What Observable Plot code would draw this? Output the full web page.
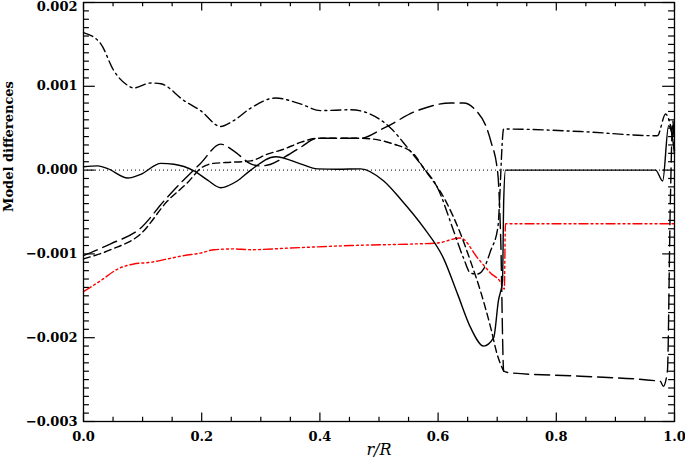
<!DOCTYPE html>
<html><head><meta charset="utf-8">
<script src="https://cdn.jsdelivr.net/npm/d3@7"></script>
<script src="https://cdn.jsdelivr.net/npm/@observablehq/plot@0.6"></script>
<style>body{margin:0;background:#fff;} svg{display:block}</style>
</head><body><div id="chart"></div>
<script>
// values (y in units of 1e-3)
const solidX = [0, .024, .04, .075, .097, .131, .153, .187, .21, .232, .26, .283, .325, .367, .396, .43, .469, .508, .537, .576, .609, .633, .655, .677, .694, .702, .709, .711, .714, .84, .968, .98, .99, .995, 1.0];
const solidY = [.04, .05, .02, -.095, -.05, .08, .07, -.01, -.12, -.21, -.13, 0.0, .16, .075, .015, .01, .015, -.13, -.35, -.69, -1.05, -1.48, -1.88, -2.10, -2.0, -1.56, -1.32, -.37, 0, 0, 0, -.13, .53, .45, .2];

const dashDotX = [0, .029, .051, .075, .085, .114, .131, .170, .198, .232, .254, .283, .325, .367, .401, .452, .481, .520, .548, .575, .599, .626, .643, .655, .667, .677, .689, .701, .711, .714, .841, .971, .985, .991, .997];
const dashDotY = [1.64, 1.51, 1.19, 1.01, .98, 1.04, 1.03, .83, .71, .52, .59, .74, .86, .79, .71, .72, .68, .50, .27, .03, -.21, -.72, -1.05, -1.23, -1.24, -1.18, -.96, -.69, .49, .49, .46, .41, .67, .59, .41];

const longDashX = [0, .046, .097, .136, .165, .198, .232, .254, .283, .300, .317, .339, .367, .396, .469, .508, .565, .621, .643, .660, .689, .701, .706, .711, .723, .841, .976, .981, .988, .993, .997, 1.0];
const longDashY = [-1.02, -.88, -.69, -.37, -.15, .08, .31, .23, .075, .05, .07, .15, .27, .38, .38, .50, .71, .80, .80, .74, .35, -.04, -.84, -2.40, -2.42, -2.46, -2.52, -2.58, -2.40, -.37, .59, .23];

const shortDashX = [0, .046, .097, .142, .176, .2, .22, .24, .283, .311, .339, .367, .396, .469, .525, .559, .575, .613, .638, .655, .672, .689, .70, .711];
const shortDashY = [-1.06, -.95, -.76, -.37, -.15, .03, .08, .09, .11, .19, .25, .33, .38, .38, .31, .19, .03, -.37, -.76, -1.09, -1.45, -1.88, -2.2, -2.40];

const redX = [0, .029, .058, .085, .114, .142, .170, .198, .221, .254, .283, .35, .452, .565, .599, .638, .667, .689, .706, .712, .714, 1.0];
const redY = [-1.45, -1.32, -1.18, -1.12, -1.10, -1.06, -1.02, -.99, -.95, -.94, -.95, -.93, -.90, -.88, -.87, -.81, -1.05, -1.23, -1.34, -1.42, -.64, -.64];

const xMajor = [0, 0.2, 0.4, 0.6, 0.8, 1.0];
const yMajor = [-0.003, -0.002, -0.001, 0, 0.001];
const yTop = [0.002];
const xMinor = [0.05, 0.1, 0.15, 0.25, 0.3, 0.35, 0.45, 0.5, 0.55, 0.65, 0.7, 0.75, 0.85, 0.9, 0.95];
const yMinor = d3.range(-30, 21).filter(i => i % 10 !== 0).map(i => i * 1e-4);

const yLabel = "Model differences";
const xLabel = "r/R";

const table = (xs, ys) => xs.map((x, i) => ({x, y: ys[i] * 1e-3}));
const allYMajor = yMajor.concat(yTop);

const lw = 1.4;
const chart = Plot.plot({
  width: 685, height: 464,
  marginLeft: 83, marginRight: 11, marginTop: 2, marginBottom: 43,
  x: {domain: [0, 1]},
  y: {domain: [-0.003, 0.002]},
  style: {fontFamily: "DejaVu Serif", fontSize: "13px", fontWeight: "bold", background: "white", color: "black"},
  marks: [
    Plot.ruleY([0], {stroke: "black", strokeDasharray: "1,3", strokeWidth: 1}),
    Plot.line(table(redX, redY), {x: "x", y: "y", stroke: "#ff0000", strokeWidth: lw, strokeDasharray: "9,3,2,3,2,3,2,3", curve: "monotone-x"}),
    Plot.line(table(shortDashX, shortDashY), {x: "x", y: "y", stroke: "black", strokeWidth: lw, strokeDasharray: "7,4", curve: "monotone-x"}),
    Plot.line(table(longDashX, longDashY), {x: "x", y: "y", stroke: "black", strokeWidth: lw, strokeDasharray: "15,6", curve: "monotone-x"}),
    Plot.line(table(dashDotX, dashDotY), {x: "x", y: "y", stroke: "black", strokeWidth: lw, strokeDasharray: "10,4,2,4", curve: "monotone-x"}),
    Plot.line(table(solidX, solidY), {x: "x", y: "y", stroke: "black", strokeWidth: lw, curve: "monotone-x"}),
    // inward ticks on all four sides (IDL style, 2% of axis length)
    Plot.ruleY(allYMajor, {x1: 0, x2: 0.02, stroke: "black", strokeWidth: 1.2}),
    Plot.ruleY(allYMajor, {x1: 0.98, x2: 1, stroke: "black", strokeWidth: 1.2}),
    Plot.ruleY(yMinor, {x1: 0, x2: 0.01, stroke: "black", strokeWidth: 1.2}),
    Plot.ruleY(yMinor, {x1: 0.99, x2: 1, stroke: "black", strokeWidth: 1.2}),
    Plot.ruleX(xMajor, {y1: -0.003, y2: -0.0029, stroke: "black", strokeWidth: 1.2}),
    Plot.ruleX(xMajor, {y1: 0.0019, y2: 0.002, stroke: "black", strokeWidth: 1.2}),
    Plot.ruleX(xMinor, {y1: -0.003, y2: -0.00295, stroke: "black", strokeWidth: 1.2}),
    Plot.ruleX(xMinor, {y1: 0.00195, y2: 0.002, stroke: "black", strokeWidth: 1.2}),
    Plot.frame({stroke: "black", strokeWidth: 1.3}),
    Plot.axisX({ticks: xMajor, tickSize: 0, tickPadding: 10, tickFormat: d3.format(".1f"), label: null, fontSize: 13, fontWeight: "bold"}),
    Plot.axisY({ticks: yMajor, tickSize: 0, tickPadding: 6, tickFormat: d3.format(".3f"), label: null, fontSize: 13, fontWeight: "bold"}),
    Plot.axisY({ticks: yTop, tickSize: 0, tickPadding: 6, tickFormat: d3.format(".3f"), label: null, fontSize: 13, fontWeight: "bold", dy: 4}),
    Plot.text([yLabel], {frameAnchor: "left", dx: -75, rotate: -90, fontSize: 13, fontWeight: "bold"}),
    Plot.text([xLabel], {frameAnchor: "bottom", dy: 33, fontStyle: "italic", fontWeight: "normal", fontSize: 16})
  ]
});
document.getElementById("chart").appendChild(chart);
</script>
</body></html>
